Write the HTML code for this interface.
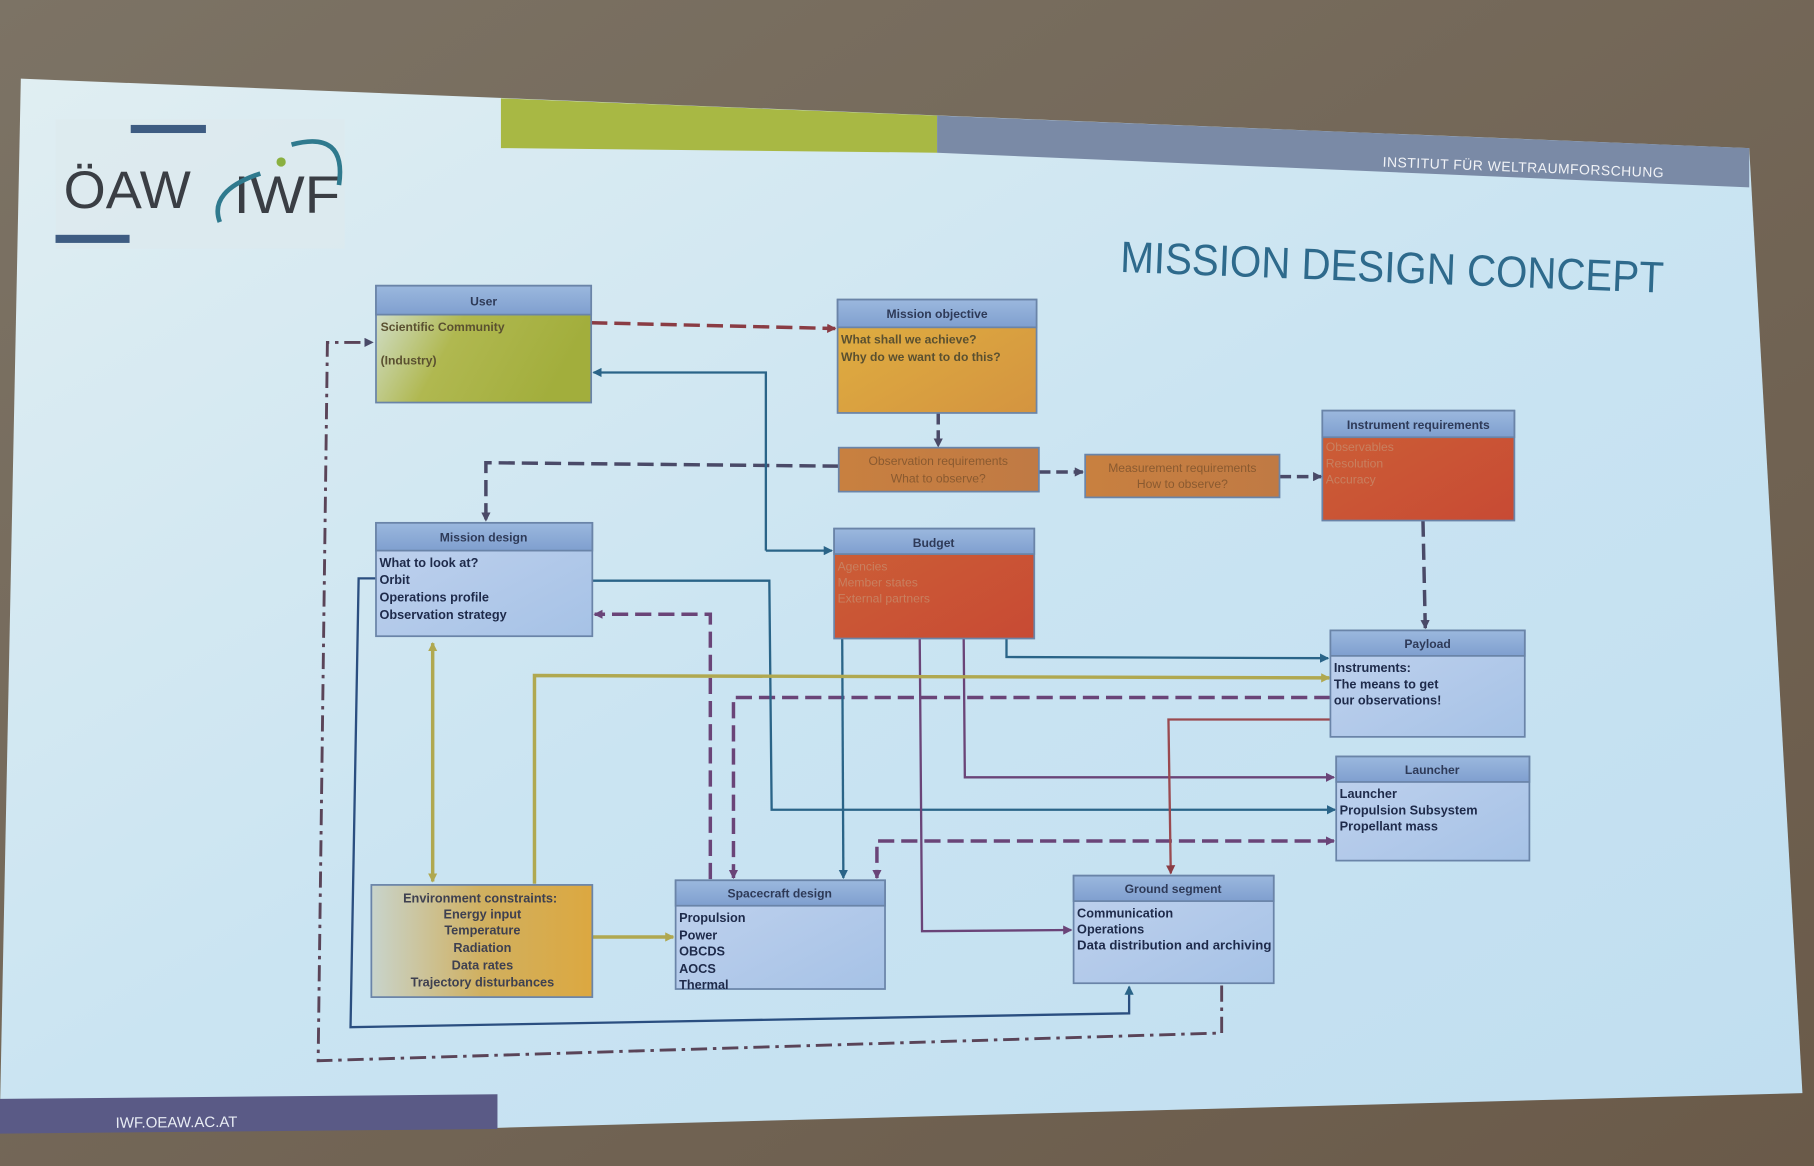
<!DOCTYPE html>
<html><head><meta charset="utf-8"><style>
html,body{margin:0;padding:0;background:#7a7062;}
svg{display:block;}
text{font-family:"Liberation Sans","DejaVu Sans",sans-serif;}
</style></head><body>
<svg width="1814" height="1166" viewBox="0 0 1568 1008" preserveAspectRatio="none" xmlns="http://www.w3.org/2000/svg">
<defs>
<linearGradient id="bg" x1="0" y1="0" x2="1" y2="1">
<stop offset="0" stop-color="#7c7365"/><stop offset="1" stop-color="#6a5a49"/></linearGradient>
<linearGradient id="slide" x1="0" y1="0" x2="1" y2="1">
<stop offset="0" stop-color="#e0eef2"/><stop offset="0.5" stop-color="#cae4f2"/><stop offset="1" stop-color="#c0def0"/></linearGradient>
<linearGradient id="hdr" x1="0" y1="0" x2="0" y2="1"><stop offset="0" stop-color="#9bb8de"/><stop offset="1" stop-color="#7f9fcf"/></linearGradient>
<linearGradient id="green" x1="0" y1="0" x2="1" y2="0.3"><stop offset="0" stop-color="#d6e4dc"/><stop offset="0.45" stop-color="#b0b850"/><stop offset="1" stop-color="#a2ae3c"/></linearGradient>
<linearGradient id="orange" x1="0" y1="0" x2="1" y2="1"><stop offset="0" stop-color="#e0b040"/><stop offset="1" stop-color="#d49440"/></linearGradient>
<linearGradient id="brown" x1="0" y1="0" x2="1" y2="0"><stop offset="0" stop-color="#c88040"/><stop offset="1" stop-color="#c07a44"/></linearGradient>
<linearGradient id="red" x1="0" y1="0" x2="1" y2="1"><stop offset="0" stop-color="#cc6036"/><stop offset="1" stop-color="#c84a34"/></linearGradient>
<linearGradient id="blue" x1="0" y1="0" x2="1" y2="1"><stop offset="0" stop-color="#c0d2ee"/><stop offset="1" stop-color="#a6c2e6"/></linearGradient>
<linearGradient id="env" x1="0" y1="0" x2="1" y2="0"><stop offset="0" stop-color="#c8d4cc"/><stop offset="0.5" stop-color="#d0b060"/><stop offset="1" stop-color="#dca840"/></linearGradient>
<marker id="a1" markerWidth="8" markerHeight="8" refX="7" refY="4" orient="auto" markerUnits="userSpaceOnUse"><path d="M0,0 L8,4 L0,8 z" fill="#8a3c44"/></marker>
<marker id="a2" markerWidth="8" markerHeight="8" refX="7" refY="4" orient="auto" markerUnits="userSpaceOnUse"><path d="M0,0 L8,4 L0,8 z" fill="#4a4a68"/></marker>
<marker id="a3" markerWidth="8" markerHeight="8" refX="7" refY="4" orient="auto" markerUnits="userSpaceOnUse"><path d="M0,0 L8,4 L0,8 z" fill="#2a6488"/></marker>
<marker id="a4" markerWidth="8" markerHeight="8" refX="7" refY="4" orient="auto" markerUnits="userSpaceOnUse"><path d="M0,0 L8,4 L0,8 z" fill="#b0a850"/></marker>
<marker id="a5" markerWidth="8" markerHeight="8" refX="7" refY="4" orient="auto" markerUnits="userSpaceOnUse"><path d="M0,0 L8,4 L0,8 z" fill="#6a4478"/></marker>
<marker id="a4s" markerWidth="8" markerHeight="8" refX="1" refY="4" orient="auto" markerUnits="userSpaceOnUse"><path d="M8,0 L0,4 L8,8 z" fill="#b0a850"/></marker>
<marker id="a2s" markerWidth="8" markerHeight="8" refX="1" refY="4" orient="auto" markerUnits="userSpaceOnUse"><path d="M8,0 L0,4 L8,8 z" fill="#6a4478"/></marker>
</defs>
<rect width="1568" height="1008" fill="url(#bg)"/>
<polygon points="18,68 1512,128 1558,945 430,975 0,978 0,960" fill="url(#slide)"/>
<polygon points="0,950 430,946 430,976 0,980" fill="#5a5a86"/>
<text x="100" y="975" font-size="13" fill="#e8ecf4" transform="rotate(-0.5 100 975)">IWF.OEAW.AC.AT</text>
<polygon points="433,85 810,100 810,132 433,128" fill="#a8b844"/>
<polygon points="810,100 1512,128 1512,162 810,132" fill="#7a8aa6"/>
<text x="1195" y="144" font-size="12" fill="#f0f2f6" transform="rotate(2.2 1195 144)" textLength="243">INSTITUT FÜR WELTRAUMFORSCHUNG</text>
<text x="968" y="235" font-size="38" fill="#2e6a8c" transform="rotate(2.2 968 235)" textLength="470" lengthAdjust="spacingAndGlyphs">MISSION DESIGN CONCEPT</text>
<!-- logo -->
<rect x="48" y="103" width="250" height="112" fill="#dde9ee" opacity="0.7"/>
<rect x="113" y="108" width="65" height="7" fill="#3e5c82"/>
<rect x="48" y="203" width="64" height="7" fill="#3e5c82"/>
<text x="55" y="180" font-size="46" fill="#3a3e44" textLength="110" lengthAdjust="spacingAndGlyphs">ÖAW</text>
<text x="202" y="184" font-size="46" fill="#3a3e44" textLength="92" lengthAdjust="spacingAndGlyphs">IWF</text>
<path d="M225,150 Q180,165 190,192" fill="none" stroke="#2f7a8e" stroke-width="4"/>
<path d="M252,125 Q300,112 293,160" fill="none" stroke="#2f7a8e" stroke-width="4"/>
<circle cx="243" cy="140" r="4" fill="#8ab040"/>

<!-- connectors -->
<g fill="none" stroke-width="3">
<path d="M511,279 L722,284" stroke="#8a3c44" stroke-dasharray="14,6" marker-end="url(#a1)"/>
<path d="M811,357 L811,386" stroke="#4a4a68" stroke-dasharray="10,5" marker-end="url(#a2)"/>
<path d="M898,408 L936,408" stroke="#4a4a68" stroke-dasharray="10,5" marker-end="url(#a2)"/>
<path d="M1106,412 L1142,412" stroke="#4a4a68" stroke-dasharray="10,5" marker-end="url(#a2)"/>
<path d="M725,403 L420,400 L420,450" stroke="#4a4a68" stroke-dasharray="14,6" marker-end="url(#a2)"/>
<path d="M1230,450 L1232,543" stroke="#4a4a68" stroke-dasharray="14,6" marker-end="url(#a2)"/>
<path d="M614,760 L614,531 L514,531" stroke="#6a4478" stroke-dasharray="14,6" marker-end="url(#a5)"/>
<path d="M1150,603 L634,603 L634,759" stroke="#6a4478" stroke-dasharray="14,6" marker-end="url(#a5)"/>
<path d="M1153,727 L758,727 L758,759" stroke="#6a4478" stroke-dasharray="14,6" marker-start="url(#a2s)" marker-end="url(#a5)"/>
<path d="M1056,852 L1056,893 L275,917 L283,296 L322,296" stroke="#5a4458" stroke-width="2.5" stroke-dasharray="14,5,3,5" marker-end="url(#a2)"/>
</g>
<g fill="none" stroke-width="2">
<path d="M662,476 L662,322 L513,322" stroke="#2a6488" marker-end="url(#a3)"/>
<path d="M662,476 L719,476" stroke="#2a6488" marker-end="url(#a3)"/>
<path d="M512,502 L665,502 L667,700 L1154,700" stroke="#2a6488" marker-end="url(#a3)"/>
<path d="M870,552 L870,568 L1148,569" stroke="#2a6488" marker-end="url(#a3)"/>
<path d="M728,552 L729,759" stroke="#2a6488" marker-end="url(#a3)"/>
<path d="M325,500 L310,500 L303,888 L976,876 L976,853" stroke="#2a4e80" marker-end="url(#a3)"/>
<path d="M833,552 L834,672 L1153,672" stroke="#6a4478" marker-end="url(#a5)"/>
<path d="M795,552 L797,805 L926,804" stroke="#6a4478" marker-end="url(#a5)"/>
<path d="M1150,622 L1010,622 L1012,755" stroke="#9a4a50" marker-end="url(#a1)"/>
</g>
<g fill="none" stroke-width="3" stroke="#b0a850">
<path d="M462,764 L462,584 L1149,586" marker-end="url(#a4)"/>
<path d="M374,556 L374,762" marker-start="url(#a4s)" marker-end="url(#a4)"/>
<path d="M512,810 L582,810" marker-end="url(#a4)"/>
</g>

<!-- boxes -->
<g stroke="#6a84a8" stroke-width="1.5">
<rect x="325" y="247" width="186" height="101" fill="url(#green)"/><rect x="325" y="247" width="186" height="25" fill="url(#hdr)"/>
<rect x="724" y="259" width="172" height="98" fill="url(#orange)"/><rect x="724" y="259" width="172" height="24" fill="url(#hdr)"/>
<rect x="725" y="387" width="173" height="38" fill="url(#brown)"/>
<rect x="938" y="393" width="168" height="37" fill="url(#brown)"/>
<rect x="1143" y="355" width="166" height="95" fill="url(#red)"/><rect x="1143" y="355" width="166" height="23" fill="url(#hdr)"/>
<rect x="325" y="452" width="187" height="98" fill="url(#blue)"/><rect x="325" y="452" width="187" height="24" fill="url(#hdr)"/>
<rect x="721" y="457" width="173" height="95" fill="url(#red)"/><rect x="721" y="457" width="173" height="22" fill="url(#hdr)"/>
<rect x="1150" y="545" width="168" height="92" fill="url(#blue)"/><rect x="1150" y="545" width="168" height="22" fill="url(#hdr)"/>
<rect x="1155" y="654" width="167" height="90" fill="url(#blue)"/><rect x="1155" y="654" width="167" height="22" fill="url(#hdr)"/>
<rect x="321" y="765" width="191" height="97" fill="url(#env)"/>
<rect x="584" y="761" width="181" height="94" fill="url(#blue)"/><rect x="584" y="761" width="181" height="22" fill="url(#hdr)"/>
<rect x="928" y="757" width="173" height="93" fill="url(#blue)"/><rect x="928" y="757" width="173" height="22" fill="url(#hdr)"/>
</g>
<g font-size="10.5" font-weight="bold" fill="#2e3a58" text-anchor="middle">
<text x="418" y="264">User</text>
<text x="810" y="275">Mission objective</text>
<text x="1226" y="371">Instrument requirements</text>
<text x="418" y="468">Mission design</text>
<text x="807" y="473">Budget</text>
<text x="1234" y="560">Payload</text>
<text x="1238" y="669">Launcher</text>
<text x="674" y="776">Spacecraft design</text>
<text x="1014" y="772">Ground segment</text>
</g>
<g font-size="10.5" fill="#8a5a30" text-anchor="middle">
<text x="811" y="402">Observation requirements</text><text x="811" y="417">What to observe?</text>
<text x="1022" y="408">Measurement requirements</text><text x="1022" y="422">How to observe?</text>
</g>
<g font-size="10.5" fill="#c88060">
<text x="1146" y="390">Observables</text><text x="1146" y="404">Resolution</text><text x="1146" y="418">Accuracy</text>
<text x="724" y="493">Agencies</text><text x="724" y="507">Member states</text><text x="724" y="521">External partners</text>
</g>
<g font-size="10.5" fill="#5a5030" font-weight="bold">
<text x="329" y="286">Scientific Community</text><text x="329" y="315">(Industry)</text>
<text x="727" y="297">What shall we achieve?</text><text x="727" y="312">Why do we want to do this?</text>
</g>
<g font-size="11" fill="#1e2a4a" font-weight="bold">
<text x="328" y="490">What to look at?</text><text x="328" y="505">Orbit</text><text x="328" y="520">Operations profile</text><text x="328" y="535">Observation strategy</text>
<text x="1153" y="581">Instruments:</text><text x="1153" y="595">The means to get</text><text x="1153" y="609">our observations!</text>
<text x="1158" y="690">Launcher</text><text x="1158" y="704">Propulsion Subsystem</text><text x="1158" y="718">Propellant mass</text>
<text x="587" y="797">Propulsion</text><text x="587" y="812">Power</text><text x="587" y="826">OBCDS</text><text x="587" y="841">AOCS</text><text x="587" y="855">Thermal</text>
<text x="931" y="793">Communication</text><text x="931" y="807">Operations</text><text x="931" y="821" textLength="168" lengthAdjust="spacingAndGlyphs">Data distribution and archiving</text>
</g>
<g font-size="11" fill="#3e4050" font-weight="bold" text-anchor="middle">
<text x="415" y="780">Environment constraints:</text><text x="417" y="794">Energy input</text><text x="417" y="808">Temperature</text><text x="417" y="823">Radiation</text><text x="417" y="838">Data rates</text><text x="417" y="853">Trajectory disturbances</text>
</g>
</svg>
</body></html>
